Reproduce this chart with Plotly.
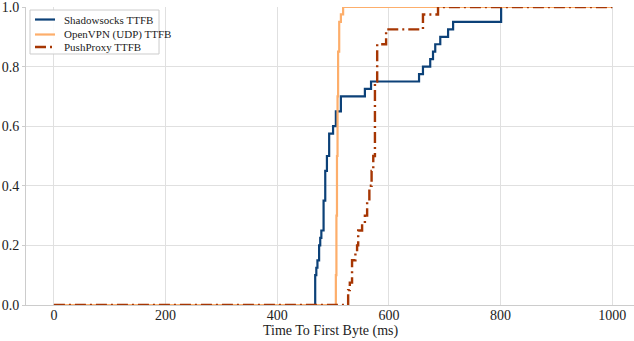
import plotly.graph_objects as go

# Step points of each empirical CDF (ms, cumulative fraction)
ss_x = [0, 466, 468, 470, 472, 475, 477, 479, 483, 486, 489, 493, 500, 505, 514,
        557, 568, 654, 661, 674, 679, 683, 692, 706, 715, 801, 1000]
ss_y = [0, 0, 0.1, 0.125, 0.15, 0.2, 0.225, 0.25, 0.35, 0.45, 0.5, 0.575, 0.6, 0.65, 0.7,
        0.725, 0.75, 0.775, 0.8, 0.825, 0.85, 0.875, 0.9, 0.925, 0.95, 1.0, 1.0]

ovpn_x = [0, 504, 505, 506, 507, 508, 509, 511, 514, 518, 1000]
ovpn_y = [0, 0, 0.1, 0.3, 0.5, 0.7, 0.85, 0.95, 0.975, 1.0, 1.0]

pp_x = [0, 525, 527, 530, 534, 540, 543, 545, 552, 557, 561, 565, 569, 572, 575,
        579, 595, 661, 688, 1000]
pp_y = [0, 0, 0.05, 0.075, 0.15, 0.175, 0.2, 0.25, 0.275, 0.3, 0.35, 0.4, 0.45, 0.5, 0.75,
        0.875, 0.925, 0.975, 1.0, 1.0]

names = ["Shadowsocks TTFB", "OpenVPN (UDP) TTFB", "PushProxy TTFB"]
x_title = "Time To First Byte (ms)"
x_ticks = [0, 200, 400, 600, 800, 1000]
y_ticks = [0.0, 0.2, 0.4, 0.6, 0.8, 1.0]

colors = ["#0c4178", "#fdae6b", "#a63603"]
widths = [2.2, 2.2, 2.4]
dashes = ["solid", "solid", "11px,4px,2px,4px"]

fig = go.Figure()
for xs, ys, nm, c, w, d in zip([ss_x, ovpn_x, pp_x], [ss_y, ovpn_y, pp_y],
                               names, colors, widths, dashes):
    fig.add_trace(go.Scatter(x=xs, y=ys, mode="lines", name=nm,
                             line=dict(color=c, width=w, shape="hv", dash=d)))

font = "Liberation Serif"

# Compact legend box (matplotlib-style) drawn in paper coordinates
leg_rows = [0.958, 0.9077, 0.8658]
fig.add_shape(type="rect", xref="paper", yref="paper",
              x0=0.0066, x1=0.2188, y0=0.8423, y1=0.9899,
              line=dict(color="#cccccc", width=1), fillcolor="rgba(255,255,255,0.9)",
              layer="above")
for ry, nm, c, w, d in zip(leg_rows, names, colors, widths, dashes):
    fig.add_shape(type="line", xref="paper", yref="paper",
                  x0=0.0148, x1=0.0477, y0=ry, y1=ry,
                  line=dict(color=c, width=w, dash=d), layer="above")
    fig.add_annotation(xref="paper", yref="paper", x=0.0592, y=ry, text=nm,
                       showarrow=False, xanchor="left", yanchor="middle",
                       font=dict(family=font, size=11, color="#222"))

# x-axis title placed just under the tick labels
fig.add_annotation(xref="paper", yref="paper", x=0.5, y=-0.086, text=x_title,
                   showarrow=False, xanchor="center", yanchor="middle",
                   font=dict(family=font, size=14, color="#222"))

fig.update_layout(
    width=634, height=341,
    margin=dict(l=26, r=0, t=7, b=36, autoexpand=False),
    paper_bgcolor="white", plot_bgcolor="white",
    font=dict(family=font, size=14, color="#222"),
    showlegend=False,
)
fig.update_xaxes(range=[-50, 1039], tickvals=x_ticks, ticktext=[str(v) for v in x_ticks],
                 automargin=False, ticklabeloverflow="allow",
                 showgrid=True, gridcolor="#e0e0e0", gridwidth=1, zeroline=False,
                 showline=True, linecolor="#cccccc", linewidth=1,
                 ticks="", ticklabelstandoff=-3,
                 tickfont=dict(family=font, size=14, color="#222"))
fig.update_yaxes(range=[0, 1], tickvals=y_ticks, ticktext=[f"{v:.1f}" for v in y_ticks],
                 automargin=False, ticklabeloverflow="allow",
                 showgrid=True, gridcolor="#e0e0e0", gridwidth=1, zeroline=False,
                 showline=True, linecolor="#cccccc", linewidth=1,
                 ticks="outside", ticklen=3, tickcolor="#cccccc",
                 tickfont=dict(family=font, size=14, color="#222"))

fig.write_html("out.html", config={"displayModeBar": False},
               post_script="document.body.style.margin='0';document.body.style.overflow='hidden';")
